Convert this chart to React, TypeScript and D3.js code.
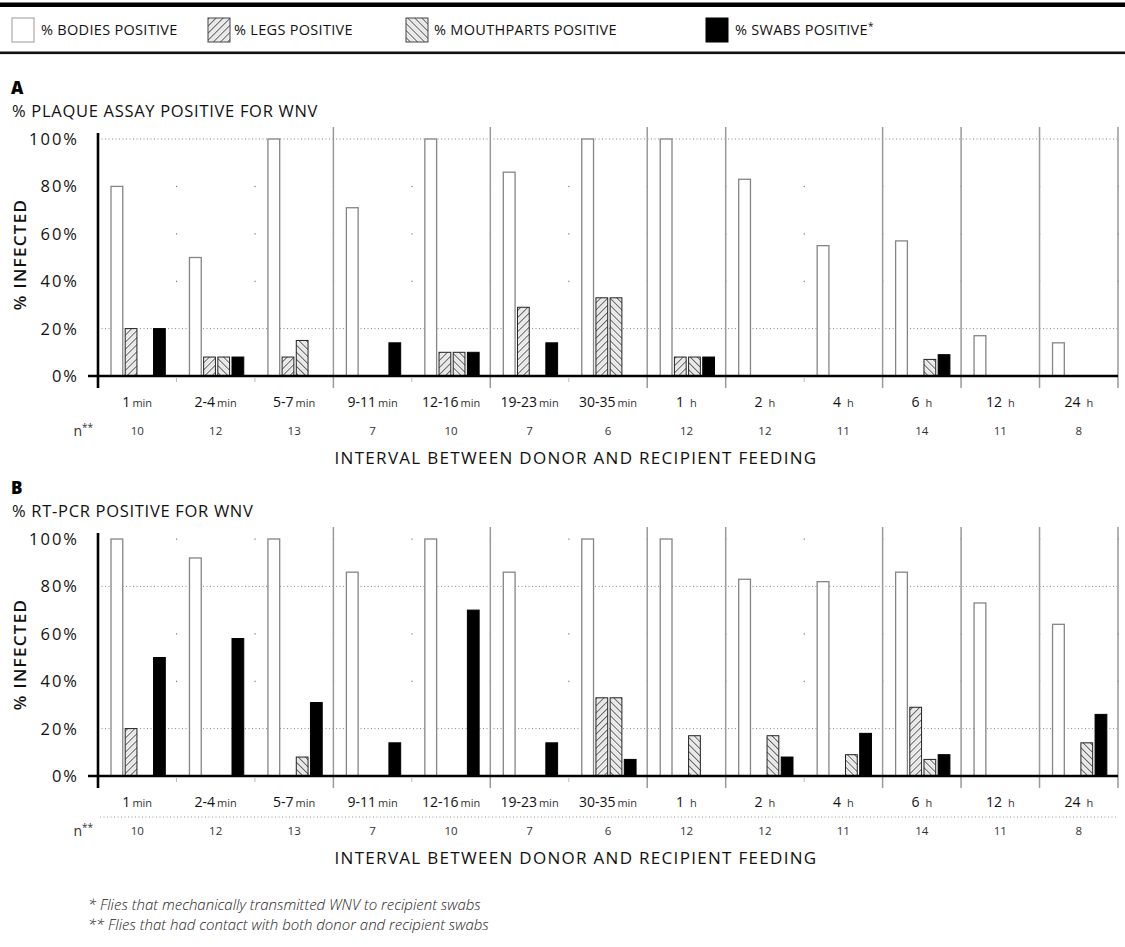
import React from "react";
import * as d3 from "d3";

// ---------- DATA ----------
const intervals = ["1", "2-4", "5-7", "9-11", "12-16", "19-23", "30-35", "1", "2", "4", "6", "12", "24"];
const units = ["min", "min", "min", "min", "min", "min", "min", "h", "h", "h", "h", "h", "h"];
const nCounts = [10, 12, 13, 7, 10, 7, 6, 12, 12, 11, 14, 11, 8];
const seriesKeys = ["bodies", "legs", "mouth", "swabs"];
const seriesLabels = ["% BODIES POSITIVE", "% LEGS POSITIVE", "% MOUTHPARTS POSITIVE", "% SWABS POSITIVE"];

const plaqueBodies = [80, 50, 100, 71, 100, 86, 100, 100, 83, 55, 57, 17, 14];
const plaqueLegs = [20, 8, 8, 0, 10, 29, 33, 8, 0, 0, 0, 0, 0];
const plaqueMouth = [0, 8, 15, 0, 10, 0, 33, 8, 0, 0, 7, 0, 0];
const plaqueSwabs = [20, 8, 0, 14, 10, 14, 0, 8, 0, 0, 9, 0, 0];

const pcrBodies = [100, 92, 100, 86, 100, 86, 100, 100, 83, 82, 86, 73, 64];
const pcrLegs = [20, 0, 0, 0, 0, 0, 33, 0, 0, 0, 29, 0, 0];
const pcrMouth = [0, 0, 8, 0, 0, 0, 33, 17, 17, 9, 7, 0, 14];
const pcrSwabs = [50, 58, 31, 14, 70, 14, 7, 0, 8, 18, 9, 0, 26];

const yTicks = [0, 20, 40, 60, 80, 100];
const solidDividers = [3, 5, 7, 8, 10, 11, 12, 13];
const footnotes = [
  "* Flies that mechanically transmitted WNV to recipient swabs",
  "** Flies that had contact with both donor and recipient swabs",
];

// ---------- LAYOUT ----------
const W = 1125;
const H = 947;
const FONT = "'Open Sans', 'DejaVu Sans', sans-serif";
const xLeft = 98;
const xRight = 1118;

const x0 = d3.scaleBand<number>().domain(d3.range(intervals.length)).range([xLeft, xRight]).padding(0);
const x1 = d3.scaleBand<string>().domain(seriesKeys).range([13, 67.3]).paddingInner(0.17);
const boundaryX = (k: number) => (k >= intervals.length ? xRight : (x0(k) as number));

const fills: Record<string, string> = {
  bodies: "#fff",
  legs: "url(#hatchLegs)",
  mouth: "url(#hatchMouth)",
  swabs: "#000",
};
const strokes: Record<string, string> = {
  bodies: "#858585",
  legs: "#222",
  mouth: "#222",
  swabs: "#000",
};

type PanelProps = {
  letter: string;
  title: string;
  y0: number;
  y100: number;
  data: number[][];
  dottedLevels: number[];
  nSeparator: boolean;
};

function Panel({ letter, title, y0, y100, data, dottedLevels, nSeparator }: PanelProps) {
  const y = d3.scaleLinear().domain([0, 100]).range([y0, y100]);
  const bw = x1.bandwidth();
  const boundaries = d3.range(1, intervals.length + 1);
  return (
    <g>
      <text x={11} y={y100 - 45} fontFamily={FONT} fontSize={17} fontWeight={800} fill="#000">
        {letter}
      </text>
      <text x={12} y={y100 - 22} fontFamily={FONT} fontSize={16.5} fill="#111" letterSpacing={0.7}>
        {title}
      </text>
      {/* y label */}
      <text
        transform={`translate(26,${(y0 + y100) / 2 - 3}) rotate(-90)`}
        textAnchor="middle"
        fontFamily={FONT}
        fontSize={17}
        fontWeight={600}
        letterSpacing={1.3}
        fill="#111"
      >
        % INFECTED
      </text>
      {/* tick labels */}
      {yTicks.map((t) => (
        <text
          key={t}
          x={79}
          y={y(t) + 6}
          textAnchor="end"
          fontFamily={FONT}
          fontSize={16.5}
          letterSpacing={2}
          fill="#111"
        >
          {t}%
        </text>
      ))}
      {/* dotted grid */}
      {dottedLevels.map((lv) => (
        <line
          key={lv}
          x1={xLeft}
          x2={xRight}
          y1={y(lv)}
          y2={y(lv)}
          stroke="#8a8a8a"
          strokeWidth={1}
          strokeDasharray="1 2.5"
        />
      ))}
      {/* faint dots at other levels */}
      {yTicks
        .filter((t) => t > 0 && !dottedLevels.includes(t))
        .map((t) =>
          boundaries.map((k) => (
            <rect key={`${t}-${k}`} x={boundaryX(k) - 0.5} y={y(t) - 0.5} width={1.2} height={1.2} fill="#777" />
          ))
        )}
      {/* bars */}
      {data.map((vals, si) =>
        vals.map((v, i) =>
          v > 0 ? (
            <rect
              key={`${si}-${i}`}
              x={(x0(i) as number) + (x1(seriesKeys[si]) as number)}
              y={y(v)}
              width={bw}
              height={y0 - y(v)}
              fill={fills[seriesKeys[si]]}
              stroke={strokes[seriesKeys[si]]}
              strokeWidth={si === 0 ? 1.3 : 1}
            />
          ) : null
        )
      )}
      {/* dividers */}
      {solidDividers.map((k) => (
        <line
          key={k}
          x1={boundaryX(k)}
          x2={boundaryX(k)}
          y1={y100 - 12}
          y2={y0 + 12}
          stroke="#9a9a9a"
          strokeWidth={1.5}
        />
      ))}
      {boundaries
        .filter((k) => !solidDividers.includes(k))
        .map((k) => (
          <line key={`f${k}`} x1={boundaryX(k)} x2={boundaryX(k)} y1={y0 + 2} y2={y0 + 6} stroke="#bbb" strokeWidth={1} />
        ))}
      {/* axes */}
      <line x1={88} x2={xRight} y1={y0} y2={y0} stroke="#000" strokeWidth={2.6} />
      <line x1={xLeft} x2={xLeft} y1={y100 - 6} y2={y0 + 12} stroke="#000" strokeWidth={2.6} />
      {/* category labels */}
      {intervals.map((lab, i) => {
        const cx = (x0(i) as number) + x0.bandwidth() / 2;
        return (
          <text key={i} x={cx} y={y0 + 31} textAnchor="middle" fontFamily={FONT} fill="#111">
            <tspan fontSize={14}>{lab}</tspan>
            <tspan fontSize={11} dx={units[i] === "h" ? 6 : 2} fill="#333">
              {units[i]}
            </tspan>
          </text>
        );
      })}
      {nSeparator && (
        <line
          x1={100}
          x2={xRight}
          y1={y0 + 41}
          y2={y0 + 41}
          stroke="#999"
          strokeWidth={1}
          strokeDasharray="1 2.5"
        />
      )}
      <text x={93} y={y0 + 60} textAnchor="end" fontFamily={FONT} fontSize={14} fill="#333">
        n<tspan fontSize={10} dy={-5}>**</tspan>
      </text>
      {nCounts.map((n, i) => (
        <text
          key={i}
          x={(x0(i) as number) + x0.bandwidth() / 2}
          y={y0 + 59}
          textAnchor="middle"
          fontFamily={FONT}
          fontSize={11.5}
          fill="#333"
        >
          {n}
        </text>
      ))}
      <text
        x={576}
        y={y0 + 88}
        textAnchor="middle"
        fontFamily={FONT}
        fontSize={17}
        fontWeight={500}
        letterSpacing={1.3}
        fill="#111"
      >
        INTERVAL BETWEEN DONOR AND RECIPIENT FEEDING
      </text>
    </g>
  );
}

export default function App() {
  const legendBoxX = [12, 208, 406, 706];
  const legendTextX = [41, 234, 434, 735];
  return (
    <svg width={W} height={H} style={{ position: "absolute", left: 0, top: 0, background: "#fff" }}>
      <defs>
        <pattern id="hatchLegs" width={5} height={5} patternUnits="userSpaceOnUse" patternTransform="rotate(45)">
          <rect width={5} height={5} fill="#fff" />
          <line x1={0.6} y1={0} x2={0.6} y2={5} stroke="#222" strokeWidth={0.8} />
          <line x1={3.1} y1={0} x2={3.1} y2={5} stroke="#aaa" strokeWidth={0.6} />
        </pattern>
        <pattern id="hatchMouth" width={5} height={5} patternUnits="userSpaceOnUse" patternTransform="rotate(-45)">
          <rect width={5} height={5} fill="#fff" />
          <line x1={0.6} y1={0} x2={0.6} y2={5} stroke="#222" strokeWidth={0.8} />
          <line x1={3.1} y1={0} x2={3.1} y2={5} stroke="#aaa" strokeWidth={0.6} />
        </pattern>
      </defs>
      <rect width={W} height={H} fill="#fff" />
      {/* legend */}
      <rect x={0} y={2.5} width={W} height={4.5} fill="#000" />
      <rect x={0} y={51.5} width={W} height={2.6} fill="#111" />
      {seriesKeys.map((k, i) => (
        <g key={k}>
          <rect
            x={legendBoxX[i]}
            y={18}
            width={22}
            height={24}
            fill={fills[k]}
            stroke={k === "bodies" ? "#999" : k === "swabs" ? "#000" : "#444"}
            strokeWidth={1}
          />
          <text x={legendTextX[i]} y={35} fontFamily={FONT} fontSize={14.5} fontWeight={500} letterSpacing={0.3} fill="#111">
            {seriesLabels[i]}
            {k === "swabs" && (
              <tspan fontSize={10} dy={-5}>
                *
              </tspan>
            )}
          </text>
        </g>
      ))}
      <Panel
        letter="A"
        title="% PLAQUE ASSAY POSITIVE FOR WNV"
        y0={376}
        y100={139}
        data={[plaqueBodies, plaqueLegs, plaqueMouth, plaqueSwabs]}
        dottedLevels={[100, 20]}
        nSeparator={false}
      />
      <Panel
        letter="B"
        title="% RT-PCR POSITIVE FOR WNV"
        y0={776}
        y100={539}
        data={[pcrBodies, pcrLegs, pcrMouth, pcrSwabs]}
        dottedLevels={[80, 20]}
        nSeparator={true}
      />
      {footnotes.map((f, i) => (
        <text
          key={i}
          x={88}
          y={910 + i * 20}
          fontFamily={FONT}
          fontSize={15}
          fontStyle="italic"
          fontWeight={300}
          fill="#222"
        >
          {f}
        </text>
      ))}
    </svg>
  );
}
